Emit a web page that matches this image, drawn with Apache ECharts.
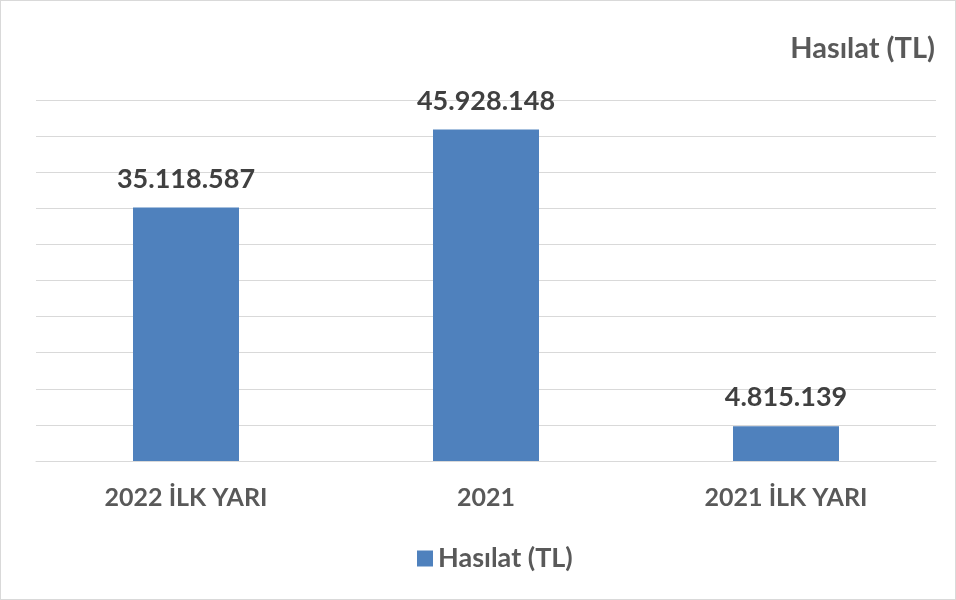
<!DOCTYPE html>
<html>
<head>
<meta charset="utf-8">
<script src="https://cdn.jsdelivr.net/npm/echarts@6/dist/echarts.min.js"></script>
<style>
  html, body { margin: 0; padding: 0; background: #fff; }
  #chart { width: 954px; height: 598px; border: 1px solid #d9d9d9; }
</style>
</head>
<body>
<div id="chart"></div>
<script>
var categories = ['2022 İLK YARI', '2021', '2021 İLK YARI'];
var hasilat = [35118587, 45928148, 4815139];
var seriesName = 'Hasılat (TL)';

function fmtTR(v) {
  return String(v).replace(/\B(?=(\d{3})+(?!\d))/g, '.');
}

var myChart = echarts.init(document.getElementById('chart'));
myChart.setOption({
  textStyle: { fontFamily: 'Lato' },
  title: {
    text: seriesName,
    right: 15,
    top: 28,
    textStyle: { fontSize: 29, fontWeight: 'bold', color: '#595959', fontFamily: 'Lato' }
  },
  legend: {
    data: [seriesName],
    bottom: 22,
    left: 411,
    icon: 'rect',
    itemWidth: 16,
    itemHeight: 16,
    itemGap: 6,
    textStyle: { fontSize: 27, fontWeight: 'bold', color: '#595959', fontFamily: 'Lato' }
  },
  grid: { left: 35, right: 19, top: 99, bottom: 138, containLabel: false },
  xAxis: {
    type: 'category',
    data: categories,
    axisLine: { lineStyle: { color: '#d9d9d9', width: 1 } },
    axisTick: { show: false },
    axisLabel: { margin: 24, fontSize: 25, fontWeight: 'bold', color: '#595959', fontFamily: 'Lato' }
  },
  yAxis: {
    type: 'value',
    min: 0,
    max: 50000000,
    interval: 5000000,
    axisLabel: { show: false },
    axisLine: { show: false },
    axisTick: { show: false },
    splitLine: { lineStyle: { color: '#d9d9d9', width: 1 } }
  },
  series: [{
    name: seriesName,
    type: 'bar',
    data: hasilat,
    barWidth: 106,
    itemStyle: { color: '#4f81bd' },
    label: {
      show: true,
      position: 'top',
      distance: 15,
      formatter: function (p) { return fmtTR(p.value); },
      fontSize: 27,
      fontWeight: 'bold',
      color: '#404040',
      fontFamily: 'Lato'
    }
  }]
});
</script>
</body>
</html>
